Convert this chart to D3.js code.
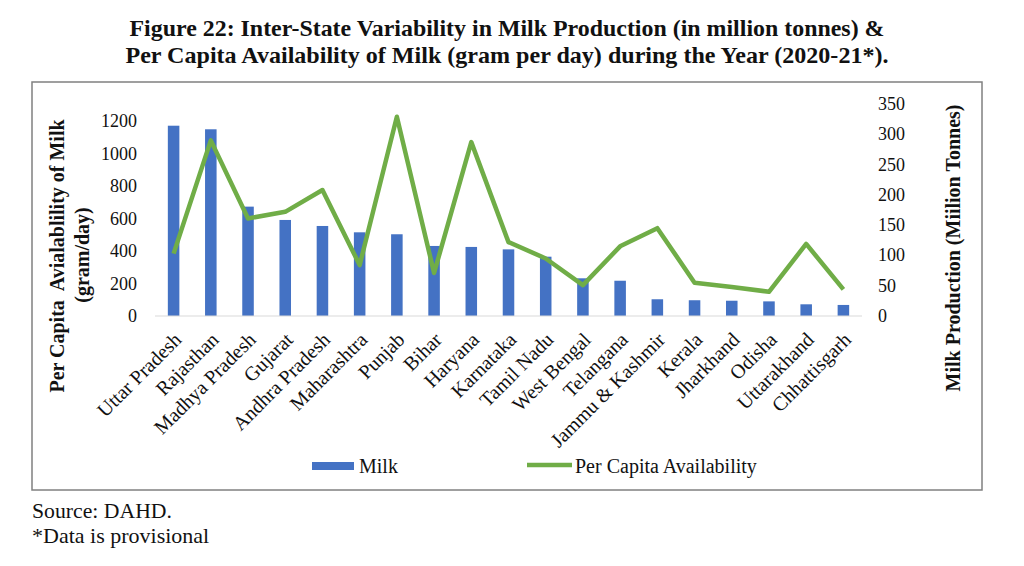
<!doctype html>
<html lang="en">
  <head>
    <meta charset="utf-8">
    <script src="https://d3js.org/d3.v7.min.js"></script>
    <title>Milk Production and Per Capita Availability</title>
    <style>
      body { margin: 0; background: #fff; }
      text { font-family: "Liberation Serif", "Times New Roman", serif; fill: #111; }
      .title { font-weight: bold; font-size: 23px; }
      .tick-label { font-size: 18px; }
      .cat-label { font-size: 20px; }
      .axis-title { font-weight: bold; font-size: 20px; }
      .legend text { font-size: 20px; }
      .note { font-size: 22px; }
    </style>
  </head>
  <body>
    <svg width="1024" height="566"></svg>

    <script>
      const states = ["Uttar Pradesh", "Rajasthan", "Madhya Pradesh", "Gujarat", "Andhra Pradesh",
        "Maharashtra", "Punjab", "Bihar", "Haryana", "Karnataka", "Tamil Nadu", "West Bengal",
        "Telangana", "Jammu & Kashmir", "Kerala", "Jharkhand", "Odisha", "Uttarakhand", "Chhattisgarh"];

      // bars, read against the left axis
      const milk = [1171, 1149, 673, 591, 554, 515, 503, 431, 425, 410, 365, 232, 217, 103, 97, 94, 90, 72, 68];

      // line, read against the right axis
      const perCapita = [103, 290, 161, 172, 208, 84, 329, 71, 287, 122, 95, 51, 115, 145, 55, 48, 40, 119, 44];

      const leftTicks = [0, 200, 400, 600, 800, 1000, 1200];
      const rightTicks = [0, 50, 100, 150, 200, 250, 300, 350];

      const blue = "#4472c4";
      const green = "#70ad47";

      const svg = d3.select("svg");

      // titles
      svg.append("text").attr("class", "title")
        .attr("x", 507).attr("y", 36).attr("text-anchor", "middle")
        .attr("textLength", 755).attr("lengthAdjust", "spacingAndGlyphs")
        .text("Figure 22: Inter-State Variability in Milk Production (in million tonnes) &");
      svg.append("text").attr("class", "title")
        .attr("x", 507).attr("y", 63).attr("text-anchor", "middle")
        .attr("textLength", 763).attr("lengthAdjust", "spacingAndGlyphs")
        .text("Per Capita Availability of Milk (gram per day) during the Year (2020-21*).");

      // chart frame
      svg.append("rect")
        .attr("x", 32).attr("y", 82).attr("width", 950).attr("height", 408)
        .attr("fill", "none").attr("stroke", "#808080").attr("stroke-width", 1.5);

      const x = d3.scaleBand()
        .domain(states)
        .range([155, 862])
        .paddingInner(0.69)
        .paddingOuter(0.345);

      const yLeft = d3.scaleLinear().domain([0, 1200]).range([316, 121]);
      const yRight = d3.scaleLinear().domain([0, 350]).range([316, 104]);

      const cx = d => x(d) + x.bandwidth() / 2;

      // bars
      svg.append("g")
        .selectAll("rect")
        .data(states)
        .join("rect")
        .attr("x", d => x(d))
        .attr("width", x.bandwidth())
        .attr("y", (d, i) => yLeft(milk[i]))
        .attr("height", (d, i) => yLeft(0) - yLeft(milk[i]))
        .attr("fill", blue);

      // baseline
      svg.append("line")
        .attr("x1", 155).attr("x2", 862)
        .attr("y1", yLeft(0)).attr("y2", yLeft(0))
        .attr("stroke", "#d9d9d9").attr("stroke-width", 1.2);

      // per capita line
      const line = d3.line()
        .x((d, i) => cx(states[i]))
        .y(d => yRight(d));

      svg.append("path")
        .datum(perCapita)
        .attr("d", line)
        .attr("fill", "none")
        .attr("stroke", green)
        .attr("stroke-width", 4.5)
        .attr("stroke-linejoin", "round");

      // left axis labels
      svg.append("g")
        .selectAll("text")
        .data(leftTicks)
        .join("text")
        .attr("class", "tick-label")
        .attr("x", 137)
        .attr("y", d => yLeft(d))
        .attr("text-anchor", "end")
        .attr("dominant-baseline", "central")
        .text(d => d);

      // right axis labels
      svg.append("g")
        .selectAll("text")
        .data(rightTicks)
        .join("text")
        .attr("class", "tick-label")
        .attr("x", 878)
        .attr("y", d => yRight(d))
        .attr("dominant-baseline", "central")
        .text(d => d);

      // category labels
      svg.append("g")
        .selectAll("text")
        .data(states)
        .join("text")
        .attr("class", "cat-label")
        .attr("text-anchor", "end")
        .attr("dominant-baseline", "central")
        .attr("transform", d => `translate(${cx(d) + 4},${336}) rotate(-45)`)
        .text(d => d);

      // axis titles
      svg.append("text").attr("class", "axis-title")
        .attr("text-anchor", "middle").attr("dominant-baseline", "central")
        .attr("transform", "translate(57,256) rotate(-90)")
        .attr("xml:space", "preserve")
        .text("Per Capita  Avialablility of Milk");
      svg.append("text").attr("class", "axis-title")
        .attr("text-anchor", "middle").attr("dominant-baseline", "central")
        .attr("transform", "translate(82,255) rotate(-90)")
        .text("(gram/day)");
      svg.append("text").attr("class", "axis-title")
        .attr("text-anchor", "middle").attr("dominant-baseline", "central")
        .attr("transform", "translate(953,248) rotate(-90)")
        .text("Milk Production (Miilion Tonnes)");

      // legend
      const legend = svg.append("g").attr("class", "legend");
      legend.append("rect")
        .attr("x", 312).attr("y", 462).attr("width", 42).attr("height", 8)
        .attr("fill", blue);
      legend.append("text")
        .attr("x", 359).attr("y", 466).attr("dominant-baseline", "central")
        .text("Milk");
      legend.append("line")
        .attr("x1", 527).attr("x2", 572).attr("y1", 465).attr("y2", 465)
        .attr("stroke", green).attr("stroke-width", 4.5);
      legend.append("text")
        .attr("x", 575).attr("y", 466).attr("dominant-baseline", "central")
        .text("Per Capita Availability");

      // notes below the chart
      svg.append("text").attr("class", "note")
        .attr("x", 32).attr("y", 518)
        .attr("textLength", 140).attr("lengthAdjust", "spacingAndGlyphs")
        .text("Source: DAHD.");
      svg.append("text").attr("class", "note")
        .attr("x", 32).attr("y", 543)
        .text("*Data is provisional");
    </script>
  </body>
</html>
